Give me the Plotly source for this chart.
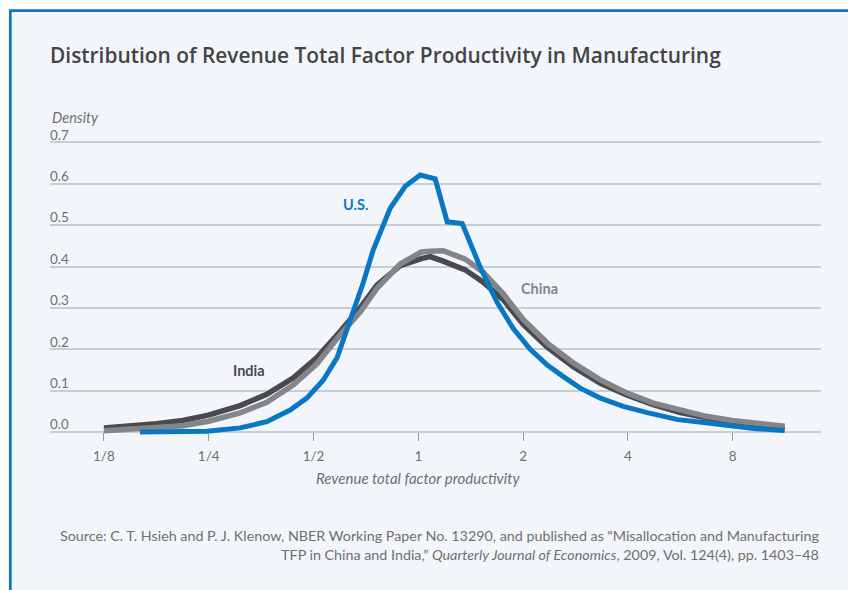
import plotly.graph_objects as go

# ---- data ----
us_x = [0.1588, 0.1935, 0.2474, 0.3078, 0.3670, 0.4284, 0.4784, 0.5330, 0.5845, 0.6368,
        0.6944, 0.7421, 0.8305, 0.9170, 1.0126, 1.1183, 1.2107, 1.3371, 1.5063, 1.6856,
        1.8739, 2.0969, 2.3469, 2.6090, 2.9192, 3.3324, 3.8801, 4.5478, 5.5667, 6.6128,
        7.8530, 9.3283, 11.282]
us_density = [0.000, 0.001, 0.002, 0.010, 0.025, 0.053, 0.082, 0.125, 0.180, 0.270,
              0.360, 0.440, 0.541, 0.594, 0.621, 0.612, 0.508, 0.504, 0.398, 0.313,
              0.250, 0.200, 0.162, 0.134, 0.106, 0.082, 0.062, 0.047, 0.030, 0.023,
              0.014, 0.008, 0.004]

asia_x = [0.125, 0.1487, 0.1771, 0.2107, 0.2496, 0.3078, 0.3670, 0.4378, 0.5113, 0.5963,
          0.6808, 0.7605, 0.8870, 1.0194, 1.082, 1.1790, 1.3639, 1.5366, 1.7537, 2.0020,
          2.3469, 2.7873, 3.3347, 3.9843, 4.7324, 5.6581, 6.7123, 7.9709, 9.468, 11.28]
india_density = [0.010, 0.014, 0.020, 0.028, 0.041, 0.064, 0.091, 0.131, 0.180, 0.243,
                 0.300, 0.355, 0.402, 0.419, 0.424, 0.413, 0.392, 0.362, 0.320, 0.260,
                 0.205, 0.158, 0.118, 0.089, 0.066, 0.047, 0.033, 0.022, 0.015, 0.010]
china_density = [0.003, 0.006, 0.010, 0.015, 0.026, 0.046, 0.072, 0.114, 0.165, 0.235,
                 0.290, 0.347, 0.406, 0.435, 0.437, 0.438, 0.418, 0.386, 0.334, 0.272,
                 0.215, 0.167, 0.126, 0.094, 0.070, 0.052, 0.038, 0.028, 0.020, 0.014]

x_tick_vals = [0.125, 0.25, 0.5, 1, 2, 4, 8]
x_tick_text = ["1/8", "1/4", "1/2", "1", "2", "4", "8"]
y_tick_vals = [0.0, 0.1, 0.2, 0.3, 0.4, 0.5, 0.6, 0.7]
y_tick_text = ["0.0", "0.1", "0.2", "0.3", "0.4", "0.5", "0.6", "0.7"]

FONT = "Lato, 'Source Sans Pro', 'Open Sans', sans-serif"
TITLE_FONT = "'Open Sans', Lato, sans-serif"
BLUE = "#0A77C4"
DARK = "#4A4A4C"
GREY = "#848588"
BG = "#F2F6FA"
TXT = "#6f6f6f"

fig = go.Figure()
fig.add_trace(go.Scatter(x=asia_x, y=india_density, mode="lines", name="India",
                         line=dict(color=DARK, width=5.5), hoverinfo="skip"))
fig.add_trace(go.Scatter(x=asia_x, y=china_density, mode="lines", name="China",
                         line=dict(color=GREY, width=5.5), hoverinfo="skip"))
fig.add_trace(go.Scatter(x=us_x, y=us_density, mode="lines", name="U.S.",
                         line=dict(color=BLUE, width=5), hoverinfo="skip"))

# plot-area geometry (pixels)
PPU = 414.3          # pixels per density unit
Y0 = 432.3           # pixel row of density 0
y_lo, y_hi = -0.012, 0.80
L, R = 50, 27
T = Y0 - y_hi * PPU
Bpix = Y0 - y_lo * PPU
B = 590 - Bpix
H = Bpix - T
zero_pos = (0 - y_lo) / (y_hi - y_lo)

def py(p):  # pixel y -> paper y
    return (Bpix - p) / H

def px(p):  # pixel x -> paper x
    return (p - L) / (848 - L - R)

fig.update_layout(
    width=848, height=590,
    margin=dict(l=L, r=R, t=T, b=B),
    paper_bgcolor="white",
    plot_bgcolor="rgba(0,0,0,0)",
    showlegend=False,
    font=dict(family=FONT, color=TXT, size=13),
    title=dict(text="Distribution of Revenue Total Factor Productivity in Manufacturing",
               x=50 / 848, xref="container", xanchor="left",
               y=1 - 56 / 590, yref="container", yanchor="middle",
               font=dict(family=TITLE_FONT, size=20.9, color="#444444", weight=600)),
    xaxis=dict(type="log", range=[-1.0579, 1.1567],
               tickvals=x_tick_vals, ticktext=x_tick_text,
               ticks="outside", ticklen=8, tickwidth=1, tickcolor="#9a9a9a",
               showgrid=False, showline=False, zeroline=False,
               anchor="free", position=zero_pos, ticklabelstandoff=4,
               tickfont=dict(size=13.5, color=TXT)),
    yaxis=dict(range=[y_lo, y_hi], tickvals=y_tick_vals, ticktext=y_tick_text,
               ticklabelposition="inside top", ticks="", showline=False,
               ticklabelstandoff=-3, ticklabelshift=2,
               zeroline=False, showgrid=True, gridcolor="#C9CCD0", gridwidth=1.5,
               tickfont=dict(size=13.5, color=TXT)),
    shapes=[dict(type="rect", xref="paper", yref="paper", layer="below",
                 x0=px(10.3), x1=px(880), y0=py(640), y1=py(10.3),
                 line=dict(color=BLUE, width=2.7), fillcolor=BG)],
)

ann = [
    dict(text="<i>Density</i>", x=0, xref="paper", xanchor="left", y=py(117), yref="paper",
         yanchor="middle", showarrow=False, font=dict(size=14.5, color=TXT)),
    dict(text="<i>Revenue total factor productivity</i>", x=0, xref="x", xanchor="center",
         y=py(478), yref="paper", yanchor="middle", showarrow=False,
         font=dict(size=15, color=TXT)),
    dict(text="Source: C. T. Hsieh and P. J. Klenow, NBER Working Paper No. 13290, and published as \u201cMisallocation and Manufacturing<br>"
              "TFP in China and India,\u201d <i>Quarterly Journal of Economics</i>, 2009, Vol. 124(4), pp. 1403\u201348",
         x=1, xref="paper", xanchor="right", align="right", y=py(545.5), yref="paper",
         yanchor="middle", showarrow=False, font=dict(size=14.3, color=TXT)),
    dict(text="<b>U.S.</b>", x=-0.1813, xref="x", y=0.551, yref="y", showarrow=False,
         font=dict(size=14.5, color=BLUE)),
    dict(text="<b>India</b>", x=-0.486, xref="x", y=0.148, yref="y", showarrow=False,
         font=dict(size=14.5, color=DARK)),
    dict(text="<b>China</b>", x=0.3495, xref="x", y=0.348, yref="y", showarrow=False,
         font=dict(size=14.5, color=GREY)),
]
fig.update_layout(annotations=ann)

fig.write_html("out.html", config={"displayModeBar": False},
               post_script="document.body.style.margin='0';document.body.style.overflow='hidden';")
